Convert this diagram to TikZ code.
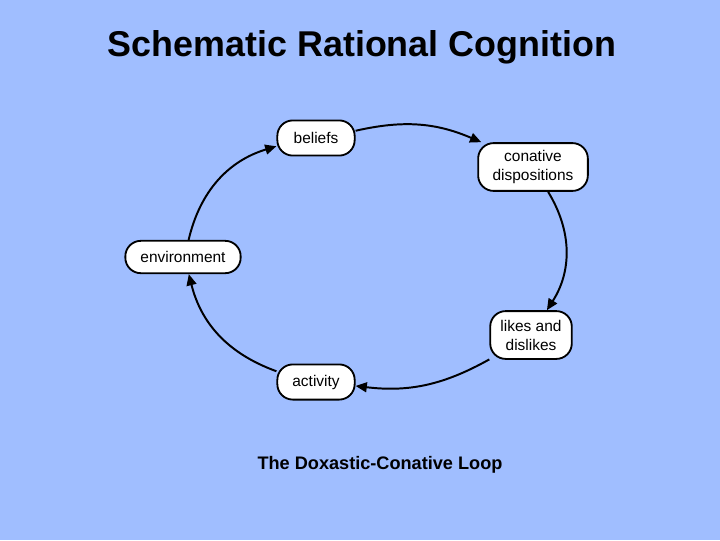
\documentclass[tikz,border=0pt]{standalone}
\usepackage{fontspec}
\setmainfont{Liberation Sans}
\usetikzlibrary{arrows.meta}
\definecolor{slidebg}{RGB}{160,190,255}

\begin{document}
\begin{tikzpicture}[
  x=0.025cm, y=-0.025cm,
  >={Triangle[length=8pt,width=7pt]},
  stage/.style={draw, fill=white, line width=1.3pt, rounded corners=11pt,
                align=center, font=\fontsize{11}{13.5}\selectfont, inner sep=2pt},
  loop/.style={->, line width=1.4pt}
]
  \fill[slidebg] (0,0) rectangle (720,540);
  \useasboundingbox (0,0) rectangle (720,540);

  \node[font=\bfseries\fontsize{25.5}{30}\selectfont] (title) at (362,47) {Schematic Rational Cognition};

  \node[stage, minimum width=55pt, minimum height=25pt] (beliefs) at (316,138) {beliefs};
  \node[stage, minimum width=78pt, minimum height=34pt] (conative) at (533,167) {conative\\dispositions};
  \node[stage, minimum width=82pt, minimum height=23pt] (environment) at (183,257) {environment};
  \node[stage, minimum width=58pt, minimum height=34pt] (likes) at (531,335) {likes and\\dislikes};
  \node[stage, minimum width=55pt, minimum height=25pt] (activity) at (316,382) {activity};

  \node[font=\bfseries\fontsize{12.9}{15}\selectfont] (caption) at (380,465) {The Doxastic-Conative Loop};

  \draw[loop] (beliefs) to[bend left=18] (conative);
  \draw[loop] (conative) to[bend left=32] (likes);
  \draw[loop] (likes) to[bend left=18] (activity);
  \draw[loop] (activity) to[bend left=28] (environment);
  \draw[loop] (environment) to[bend left=30] (beliefs);
\end{tikzpicture}
\end{document}
